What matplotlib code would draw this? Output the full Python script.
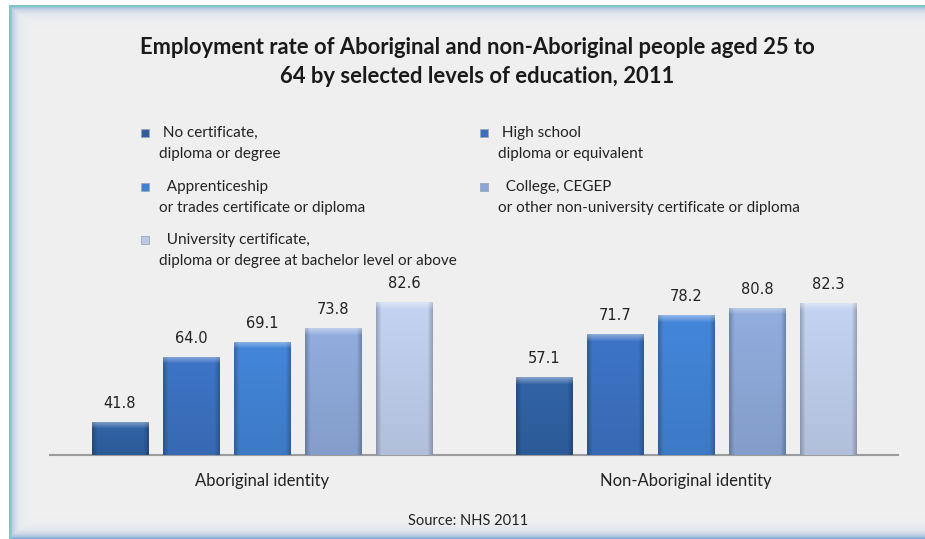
import numpy as np
import matplotlib
matplotlib.use("Agg")
import matplotlib.pyplot as plt
from matplotlib.patches import Rectangle
from matplotlib.colors import to_rgb

# employment rate (%) by highest level of education, NHS 2011
groups = ["Aboriginal identity", "Non-Aboriginal identity"]
levels = [" No certificate,\ndiploma or degree",
          " High school\ndiploma or equivalent",
          "  Apprenticeship\nor trades certificate or diploma",
          "  College, CEGEP\nor other non-university certificate or diploma",
          "  University certificate,\ndiploma or degree at bachelor level or above"]
no_cert = [41.8, 57.1]
high_school = [64.0, 71.7]
trades = [69.1, 78.2]
college = [73.8, 80.8]
university = [82.6, 82.3]

series = [no_cert, high_school, trades, college, university]
colors = ["#2f5f9f", "#3a6fbd", "#4080d0", "#8ba5d4", "#bac9e6"]

W, H = 925, 539
fig = plt.figure(figsize=(W / 100, H / 100), dpi=100)


def fx(x):
    return x / W


def fy(y):
    return 1 - y / H


# panel background with the soft blue frame (left, top, bottom)
bg = fig.add_axes([0, 0, 1, 1], zorder=-10)
yy, xx = np.mgrid[0:H, 0:W]
d = np.minimum.reduce([xx - 9.0, yy - 5.0, 538.0 - yy])
img = np.ones((H, W, 3)) * 0.94
blue = np.array(to_rgb("#6f9fd6"))
f = np.clip(np.exp(-np.maximum(d, 0) / 4.5), 0, 1)[..., None] * 0.85
img = img * (1 - f) + blue * f
edge = ((xx - 9.0 >= 0) & (xx - 9.0 < 1.2)) | ((yy - 5.0 >= 0) & (yy - 5.0 < 1.2))
img[edge & (d >= 0)] = to_rgb("#7cc8c0")
img[(xx < 9) | (yy < 5)] = 1.0
bg.imshow(img, aspect="auto", extent=(0, W, H, 0))
bg.axis("off")

# plotting area
x_left, x_right, y_base, y_top = 50, 898, 455, 290
px_per_unit = 2.93
ymin = 30.5
ax = fig.add_axes([fx(x_left), fy(y_base), fx(x_right - x_left), (y_base - y_top) / H])
ax.set_facecolor("none")
ax.set_xlim(-0.5, 1.5)
ax.set_ylim(ymin, ymin + (y_base - y_top) / px_per_unit)

bw = 0.134
step = 0.1675
xpos = np.arange(len(groups))


def bevel(color, h_px):
    # shaded fill: darker side edges, lighter top band
    base = np.array(to_rgb(color))
    n = max(int(h_px), 2)
    m = 57
    u = np.linspace(0, 1, m)
    side = 1 - 0.22 * np.clip(1 - np.minimum(u, 1 - u) / 0.09, 0, 1)
    v = np.arange(n)
    top = np.clip(1 - v / 7.0, 0, 1)[:, None]
    vert = (1.05 - 0.1 * v / n)[:, None]
    rgb = base[None, None, :] * (side[None, :, None] * vert[..., None])
    rgb = rgb * (1 - 0.4 * top[..., None]) + 0.4 * top[..., None]
    return np.clip(rgb, 0, 1)


for i, (vals, c) in enumerate(zip(series, colors)):
    bars = ax.bar(xpos + (i - 2) * step, vals, bw, color=c, zorder=2)
    for b, v in zip(bars, vals):
        h_px = (v - ymin) * px_per_unit
        im = ax.imshow(bevel(c, h_px), aspect="auto", zorder=3,
                       extent=(b.get_x(), b.get_x() + b.get_width(), ymin, v))
        im.set_clip_path(b)
        ax.annotate(f"{v:.1f}", (b.get_x() + b.get_width() / 2, v),
                    xytext=(0, 8), textcoords="offset points",
                    ha="center", va="bottom", fontsize=10.5,
                    family="DejaVu Sans", color="#222222")

for s in ["top", "left", "right"]:
    ax.spines[s].set_visible(False)
ax.spines["bottom"].set_color("#9c9c9c")
ax.spines["bottom"].set_linewidth(1.5)
ax.set_yticks([])
ax.set_xticks(xpos)
ax.set_xticklabels(groups, fontsize=12, family="Lato", color="#222222")
ax.tick_params(axis="x", length=0, pad=13)

# title
fig.text(fx(477), fy(47), "Employment rate of Aboriginal and non-Aboriginal people aged 25 to",
         ha="center", va="center", fontsize=15.8, fontweight="bold", family="Lato", color="#1a1a1a")
fig.text(fx(477), fy(77), "64 by selected levels of education, 2011",
         ha="center", va="center", fontsize=15.8, fontweight="bold", family="Lato", color="#1a1a1a")

# legend, two columns
spots = [(145, 133), (484, 133), (145, 187), (484, 187), (145, 240)]
for (mx, my), lab, c in zip(spots, levels, colors):
    fig.add_artist(Rectangle((fx(mx - 4), fy(my + 4)), 8 / W, 8 / H,
                             transform=fig.transFigure, facecolor=c,
                             edgecolor="#9aa8bb", linewidth=0.6))
    first, second = lab.split("\n")
    fig.text(fx(mx + 14), fy(my), first, ha="left", va="center",
             fontsize=11, family="Lato", color="#222222")
    fig.text(fx(mx + 14), fy(my + 21), second, ha="left", va="center",
             fontsize=11, family="Lato", color="#222222")

fig.text(fx(468), fy(521), "Source: NHS 2011", ha="center", va="center",
         fontsize=10.5, family="Lato", color="#222222")

fig.savefig("out.png", dpi=100)
